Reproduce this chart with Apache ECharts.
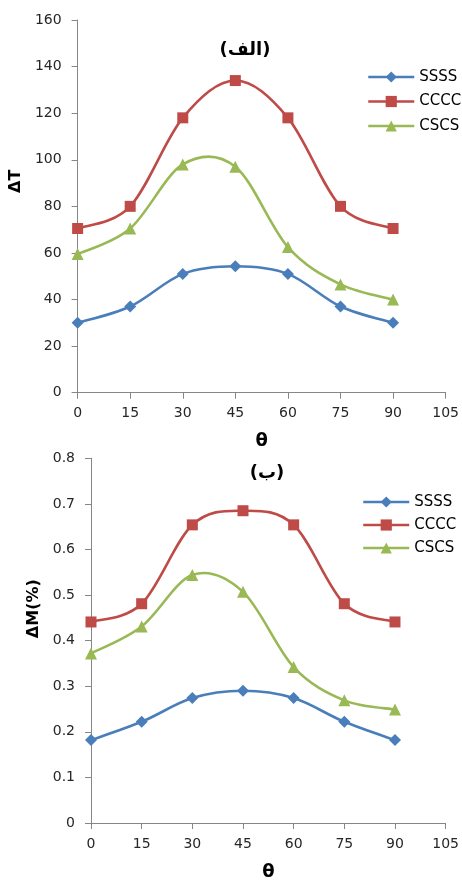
<!DOCTYPE html>
<html><head><meta charset="utf-8">
<script src="https://cdn.jsdelivr.net/npm/echarts@6/dist/echarts.min.js"></script>
<style>html,body{margin:0;padding:0;background:#fff}#c{width:462px;height:882px}</style>
</head><body><div id="c"></div>
<script>
var theta = [0, 15, 30, 45, 60, 75, 90];
var xTicks = [0, 15, 30, 45, 60, 75, 90, 105];
var seriesNames = ['SSSS', 'CCCC', 'CSCS'];
// Chart (الف): ΔT
var dT_SSSS = [30, 37, 51, 54.3, 51, 37, 30];
var dT_CCCC = [70.5, 80, 118, 134, 118, 80, 70.5];
var dT_CSCS = [59.5, 70.5, 98, 97, 62.5, 46.5, 40];
// Chart (ب): ΔM(%)
var dM_SSSS = [0.182, 0.222, 0.274, 0.290, 0.274, 0.222, 0.182];
var dM_CCCC = [0.441, 0.481, 0.654, 0.685, 0.654, 0.481, 0.441];
var dM_CSCS = [0.372, 0.431, 0.544, 0.507, 0.342, 0.269, 0.249];
var yTicks1 = [0, 20, 40, 60, 80, 100, 120, 140, 160];
var yTicks2 = [0, 0.1, 0.2, 0.3, 0.4, 0.5, 0.6, 0.7, 0.8];
var titles = ['(الف)', '(ب)'];
var yNames = ['ΔT', 'ΔM(%)'];
var xName = 'θ';

var colors = ['#4A7EBB', '#BE4B48', '#98B954'];
var symbols = ['diamond', 'rect', 'triangle'];
var symSizes = [12, 11, 12];
var FONT = 'DejaVu Sans';

function pairs(v){ return theta.map(function(t,i){return [t, v[i]];}); }

// smooth curve (Catmull-Rom -> Bezier, like spreadsheet "smoothed line") through library coords
function curveRenderer(v, color){
  return function(params, api){
    if (params.dataIndex !== 0) return null;
    var p = theta.map(function(t,i){ return api.coord([t, v[i]]); });
    var n = p.length, d = 'M' + p[0][0] + ' ' + p[0][1];
    for (var i = 0; i < n-1; i++){
      var p0 = p[Math.max(i-1,0)], p1 = p[i], p2 = p[i+1], p3 = p[Math.min(i+2,n-1)];
      var c1x = p1[0] + (p2[0]-p0[0])/6, c1y = p1[1] + (p2[1]-p0[1])/6;
      var c2x = p2[0] - (p3[0]-p1[0])/6, c2y = p2[1] - (p3[1]-p1[1])/6;
      d += ' C' + c1x + ' ' + c1y + ' ' + c2x + ' ' + c2y + ' ' + p2[0] + ' ' + p2[1];
    }
    return {type:'path', shape:{pathData:d}, style:{stroke:color, lineWidth:2.6, fill:'none'}, silent:true};
  };
}

var chart = echarts.init(document.getElementById('c'), null, {renderer:'canvas'});
var axisLine = {lineStyle:{color:'#868686', width:1}};
var axisTick = {show:true, length:6, lineStyle:{color:'#868686'}};
function xAx(gi){
  return {gridIndex:gi, type:'value', min:xTicks[0], max:xTicks[xTicks.length-1], interval:xTicks[1]-xTicks[0],
    axisLine:axisLine, axisTick:axisTick, splitLine:{show:false},
    axisLabel:{margin:14, fontFamily:FONT, fontSize:14, color:'#262626'},
    name:xName, nameLocation:'middle', nameGap:40,
    nameTextStyle:{fontFamily:FONT, fontSize:18, fontWeight:'bold', color:'#000'}};
}
function yAx(gi, ticks, pad){
  return {gridIndex:gi, type:'value', min:ticks[0], max:ticks[ticks.length-1], interval:ticks[1]-ticks[0],
    axisLine:{show:true, lineStyle:{color:'#868686', width:1}}, axisTick:axisTick, splitLine:{show:false},
    axisLabel:{margin:16, fontFamily:FONT, fontSize:14, color:'#262626'},
    name:yNames[gi], nameLocation:'middle', nameGap:46, nameRotate:90,
    nameTextStyle:{fontFamily:FONT, fontSize:16, fontWeight:'bold', color:'#000', padding:[0,0,0,pad]}};
}
var sets = [[dT_SSSS, dT_CCCC, dT_CSCS], [dM_SSSS, dM_CCCC, dM_CSCS]];
var series = [];
sets.forEach(function(set, gi){
  set.forEach(function(v, si){
    series.push({name:seriesNames[si] + ' curve', type:'custom', xAxisIndex:gi, yAxisIndex:gi,
      data:pairs(v), renderItem:curveRenderer(v, colors[si]), z:2+si, clip:false});
    series.push({name:seriesNames[si], type:'line', xAxisIndex:gi, yAxisIndex:gi,
      data:pairs(v), symbol:symbols[si], symbolSize:symSizes[si],
      lineStyle:{color:colors[si], width:2.5, opacity:0}, itemStyle:{color:colors[si]}, z:10+si});
  });
});
function legend(top, gap, left){
  return {orient:'vertical', left:left, top:top, padding:0, itemGap:gap, itemWidth:46, itemHeight:14,
    data:seriesNames.map(function(n, i){return {name:n, lineStyle:{color:colors[i], width:2.5, opacity:1}};}),
    textStyle:{fontFamily:FONT, fontSize:15, color:'#000', lineHeight:15}, selectedMode:false};
}
chart.setOption({
  animation:false,
  title:[
    {text:titles[0], left:240, top:45, textAlign:'center', textVerticalAlign:'middle',
     textStyle:{fontFamily:FONT, fontSize:18, fontWeight:'bold', color:'#000'}},
    {text:titles[1], left:262, top:468, textAlign:'center', textVerticalAlign:'middle',
     textStyle:{fontFamily:FONT, fontSize:18, fontWeight:'bold', color:'#000'}}
  ],
  legend:[legend(69.5, 9.5, 367), legend(494.5, 8, 362)],
  grid:[
    {left:77, right:15.3, top:20, bottom:489.3, containLabel:false},
    {left:91, right:15.3, top:458.3, bottom:53.7, containLabel:false}
  ],
  xAxis:[xAx(0), xAx(1)],
  yAxis:[yAx(0, yTicks1, 50), yAx(1, yTicks2, 64)],
  series:series
});
</script></body></html>
